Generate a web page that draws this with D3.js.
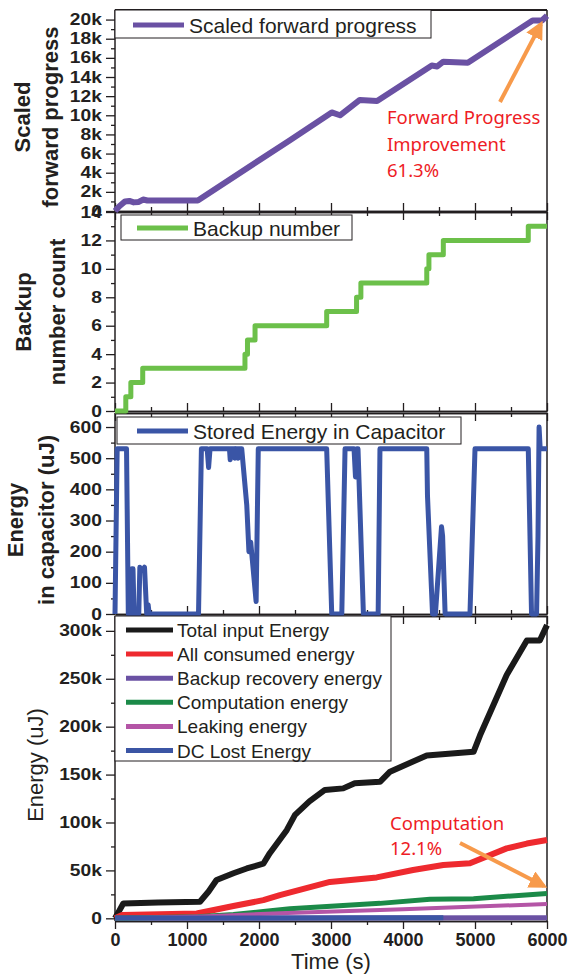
<!DOCTYPE html>
<html>
<head>
<meta charset="utf-8">
<script src="https://cdn.jsdelivr.net/npm/d3@7"></script>
<style>
body { margin: 0; background: #fff; }
svg { display: block; font-family: "Liberation Sans", Arial, sans-serif; }
</style>
</head>
<body>
<script>
// ---- data ----
var progTime  = [0, 60, 140, 200, 260, 330, 390, 450, 1150, 2430, 3010, 3125, 3400, 3640, 4400, 4475, 4560, 4900, 5800, 5930, 6000];
var progValue = [0, 500, 1000, 1050, 900, 950, 1200, 1100, 1100, 7400, 10300, 10000, 11600, 11500, 15200, 15100, 15600, 15500, 19900, 19900, 20400];

var backupTime  = [0, 150, 220, 385, 1805, 1840, 1945, 2940, 3355, 3415, 4330, 4360, 4560, 5740, 6000];
var backupCount = [0, 1, 2, 3, 4, 5, 6, 7, 8, 9, 10, 11, 12, 13, 13];

var capTime   = [0, 30, 160, 185, 215, 235, 250, 265, 330, 345, 380, 410, 440, 460, 475, 1160, 1200, 1280, 1300, 1320, 1590, 1600, 1615, 1660, 1665, 1680, 1700, 1710, 1725, 1760, 1830, 1860, 1885, 1960, 1990, 2940, 3010, 3150, 3195, 3320, 3340, 3360, 3375, 3450, 3655, 3680, 4330, 4340, 4410, 4450, 4535, 4550, 4585, 4930, 5000, 5740, 5785, 5855, 5875, 5890, 5905, 6000];
var capEnergy = [0, 530, 530, 0, 0, 145, 145, 0, 0, 150, 140, 150, 0, 30, 0, 0, 530, 530, 470, 530, 530, 495, 530, 530, 500, 530, 530, 500, 530, 530, 350, 200, 230, 40, 530, 530, 0, 0, 530, 530, 440, 530, 530, 0, 0, 530, 530, 380, 0, 0, 280, 250, 0, 0, 530, 530, 0, 0, 250, 600, 530, 530];

var energyNames = ["Total input Energy", "All consumed energy", "Backup recovery energy", "Computation energy", "Leaking energy", "DC Lost Energy"];
var totalTime  = [0, 60, 115, 600, 1180, 1300, 1410, 1645, 1830, 2060, 2150, 2385, 2500, 2700, 2915, 3170, 3330, 3680, 3820, 4330, 4980, 5070, 5440, 5720, 5900, 6000];
var totalValue = [0, 8000, 15500, 16500, 17300, 28000, 40000, 47000, 52000, 57000, 68000, 92000, 108000, 122000, 134000, 135600, 141000, 142500, 153000, 170000, 173800, 191000, 254000, 290000, 290000, 306000];
var consumedTime  = [0, 100, 1135, 1645, 2060, 2290, 2985, 3635, 4140, 4560, 4930, 5440, 5720, 6000];
var consumedValue = [0, 3400, 5000, 12800, 19000, 24300, 38000, 42700, 50400, 55600, 57400, 73000, 78000, 81700];
var recoveryTime  = [0, 6000];
var recoveryValue = [300, 700];
var computeTime  = [0, 1150, 1645, 2060, 2430, 3680, 4375, 4980, 6000];
var computeValue = [0, 1700, 4000, 7000, 10000, 15600, 20000, 20500, 26000];
var leakTime  = [0, 1200, 2290, 4000, 6000];
var leakValue = [0, 2000, 5200, 9500, 14900];
var dcLostTime  = [0, 4560];
var dcLostValue = [300, 500];

var timeTicks = [0, 1000, 2000, 3000, 4000, 5000, 6000];

// ---- layout ----
var svgWidth = 568, svgHeight = 975;
var plotLeft = 115, plotRight = 547;

var svg = d3.select("body").append("svg")
  .attr("width", svgWidth)
  .attr("height", svgHeight);

var x = d3.scaleLinear().domain([0, 6000]).range([plotLeft, plotRight]);

var kFormat = function(d) { return d === 0 ? "0" : (d / 1000) + "k"; };

function pts(t, v) { return t.map(function(d, i) { return [d, v[i]]; }); }

// draws frame, axes and title for one panel, returns its y scale
function panel(cfg) {
  var y = d3.scaleLinear().domain(cfg.domain).range([cfg.bottom, cfg.top]);
  var g = svg.append("g").attr("class", "panel");

  // minor + major left ticks
  g.append("g")
    .attr("transform", `translate(${plotLeft},0)`)
    .call(d3.axisLeft(y).tickValues(cfg.minor).tickSize(4).tickSizeOuter(0).tickFormat(""))
    .call(s => s.select(".domain").remove());
  var ya = g.append("g")
    .attr("transform", `translate(${plotLeft},0)`)
    .call(d3.axisLeft(y).tickValues(cfg.major).tickSize(9).tickSizeOuter(0).tickPadding(4).tickFormat(cfg.format));
  ya.select(".domain").remove();
  ya.selectAll(".tick text")
    .attr("font-size", 16).attr("font-weight", "bold").attr("fill", "#231f20")
    .attr("font-family", "'Liberation Sans', Arial, sans-serif")
    .attr("x", -11)
    .attr("transform", "scale(1.2,1)");

  // x ticks at top (inward) and bottom
  var minorT = d3.range(500, 6000, 1000);
  if (!cfg.noTopTicks) {
    g.append("g").attr("transform", `translate(0,${cfg.top})`)
      .call(d3.axisBottom(x).tickValues(timeTicks).tickSize(8).tickSizeOuter(0).tickFormat(""));
    g.append("g").attr("transform", `translate(0,${cfg.top})`)
      .call(d3.axisBottom(x).tickValues(minorT).tickSize(4).tickSizeOuter(0).tickFormat(""));
  } else {
    g.append("line").attr("x1", plotLeft).attr("x2", plotRight)
      .attr("y1", cfg.top).attr("y2", cfg.top).attr("stroke", "#231f20").attr("stroke-width", 2);
  }
  if (cfg.labels) {
    var xa = g.append("g").attr("transform", `translate(0,${cfg.bottom})`)
      .call(d3.axisBottom(x).tickValues(timeTicks).tickSize(8).tickSizeOuter(0).tickPadding(4).tickFormat(d3.format("d")));
    xa.selectAll(".tick text")
      .attr("font-size", 18).attr("font-weight", "bold").attr("fill", "#231f20")
      .attr("font-family", "'Liberation Sans', Arial, sans-serif");
    g.append("g").attr("transform", `translate(0,${cfg.bottom})`)
      .call(d3.axisBottom(x).tickValues(minorT).tickSize(4).tickSizeOuter(0).tickFormat(""));
  } else {
    g.append("g").attr("transform", `translate(0,${cfg.bottom})`)
      .call(d3.axisTop(x).tickValues(timeTicks).tickSize(8).tickSizeOuter(0).tickFormat(""));
    g.append("g").attr("transform", `translate(0,${cfg.bottom})`)
      .call(d3.axisTop(x).tickValues(minorT).tickSize(4).tickSizeOuter(0).tickFormat(""));
  }

  // left and right frame
  g.append("line").attr("x1", plotLeft).attr("x2", plotLeft)
    .attr("y1", cfg.top).attr("y2", cfg.bottom).attr("stroke", "#231f20").attr("stroke-width", 1.5);
  g.append("line").attr("x1", plotRight).attr("x2", plotRight)
    .attr("y1", cfg.top).attr("y2", cfg.bottom).attr("stroke", "#231f20").attr("stroke-width", 1.5);

  g.selectAll(".tick line").attr("stroke", "#231f20").attr("stroke-width", 1.3);
  g.selectAll(".domain").attr("stroke", "#231f20").attr("stroke-width", 1.5);

  // y title (rotated, one or two lines)
  cfg.title.forEach(function(t, i) {
    svg.append("text")
      .attr("transform", `translate(${cfg.titleX[i]},${cfg.titleY}) rotate(-90)`)
      .attr("text-anchor", "middle")
      .attr("font-size", 22)
      .attr("font-weight", cfg.titleWeight || "bold")
      .attr("fill", "#231f20")
      .text(t);
  });
  return y;
}

function legendBox(b, color, label, fontSize) {
  svg.append("rect").attr("x", b.x).attr("y", b.y).attr("width", b.w).attr("height", b.h)
    .attr("fill", "#fff").attr("stroke", "#231f20").attr("stroke-width", 1);
  svg.append("line").attr("x1", b.lx1).attr("x2", b.lx2).attr("y1", b.ly).attr("y2", b.ly)
    .attr("stroke", color).attr("stroke-width", 5);
  svg.append("text").attr("x", b.tx).attr("y", b.ly + 7.5)
    .attr("font-size", fontSize).attr("fill", "#231f20").text(label);
}

function drawLine(y, data, color, width, curve) {
  svg.append("path")
    .datum(data)
    .attr("fill", "none")
    .attr("stroke", color)
    .attr("stroke-width", width)
    .attr("stroke-linejoin", "round")
    .attr("d", d3.line().curve(curve || d3.curveLinear).x(d => x(d[0])).y(d => y(d[1])));
}

// ---- panel 1: scaled forward progress ----
var y1 = panel({
  top: 10, bottom: 211, domain: [0, 21000],
  major: d3.range(0, 21000, 2000), minor: d3.range(1000, 21000, 2000),
  format: kFormat, noTopTicks: true,
  title: ["Scaled", "forward progress"], titleX: [30, 58], titleY: 117
});

// ---- panel 2: backup number ----
var y2 = panel({
  top: 212, bottom: 411, domain: [0, 14],
  major: d3.range(0, 15, 2), minor: d3.range(1, 14, 2),
  format: d3.format("d"),
  title: ["Backup", "number count"], titleX: [31, 65], titleY: 312
});

// ---- panel 3: stored energy ----
var y3 = panel({
  top: 413, bottom: 614, domain: [0, 645],
  major: d3.range(0, 601, 100), minor: d3.range(50, 650, 100),
  format: d3.format("d"),
  title: ["Energy", "in capacitor (uJ)"], titleX: [23, 54], titleY: 520
});

// ---- panel 4: energy breakdown ----
var y4 = panel({
  top: 616, bottom: 921, domain: [-2800, 315500],
  major: d3.range(0, 300001, 50000), minor: d3.range(25000, 315000, 50000),
  format: kFormat, labels: true,
  title: ["Energy (uJ)"], titleX: [43], titleY: 765, titleWeight: "normal"
});

// lines
drawLine(y1, pts(progTime, progValue), "#6a51a3", 6);
drawLine(y2, pts(backupTime, backupCount), "#6cc04a", 5, d3.curveStepAfter);
drawLine(y3, pts(capTime, capEnergy), "#3a55a6", 5);

var energyColors = ["#1a1a1a", "#ee2a2f", "#6a51a3", "#1b8a48", "#b455a6", "#3b55a4"];
var energySeries = [
  pts(totalTime, totalValue),
  pts(consumedTime, consumedValue),
  pts(recoveryTime, recoveryValue),
  pts(computeTime, computeValue),
  pts(leakTime, leakValue),
  pts(dcLostTime, dcLostValue)
];
var energyWidths = [6, 6, 5, 5, 4, 5];
energySeries.forEach(function(s, i) {
  drawLine(y4, s, energyColors[i], energyWidths[i]);
});

// legends
legendBox({x: 115, y: 10, w: 316, h: 28, lx1: 133, lx2: 184, ly: 25, tx: 189}, "#6a51a3", "Scaled forward progress", 21);
legendBox({x: 121, y: 215, w: 231, h: 25, lx1: 137, lx2: 188, ly: 228, tx: 193}, "#6cc04a", "Backup number", 21);
legendBox({x: 117, y: 417, w: 344, h: 27, lx1: 137, lx2: 188, ly: 431, tx: 193}, "#3a55a6", "Stored Energy in Capacitor", 21);

svg.append("rect").attr("x", 115).attr("y", 616).attr("width", 276).attr("height", 145)
  .attr("fill", "#fff").attr("stroke", "#231f20").attr("stroke-width", 1);
var legY = d3.scalePoint().domain(energyNames).range([630, 750.5]);
energyNames.forEach(function(n, i) {
  svg.append("line").attr("x1", 126).attr("x2", 173).attr("y1", legY(n)).attr("y2", legY(n))
    .attr("stroke", energyColors[i]).attr("stroke-width", 5);
  svg.append("text").attr("x", 177).attr("y", legY(n) + 7)
    .attr("font-size", 19).attr("fill", "#231f20").text(n);
});

// x title
svg.append("text").attr("x", (plotLeft + plotRight) / 2).attr("y", 969)
  .attr("text-anchor", "middle").attr("font-size", 22).attr("fill", "#231f20").text("Time (s)");

// annotations
svg.append("defs").append("marker")
  .attr("id", "head").attr("viewBox", "0 0 10 10").attr("refX", 8).attr("refY", 5)
  .attr("markerWidth", 4.5).attr("markerHeight", 4.5).attr("orient", "auto")
  .append("path").attr("d", "M0,0 L10,5 L0,10 z").attr("fill", "#f79a4b");

svg.append("line").attr("x1", 500).attr("y1", 102).attr("x2", 541).attr("y2", 24)
  .attr("stroke", "#f79a4b").attr("stroke-width", 4).attr("marker-end", "url(#head)");
svg.append("line").attr("x1", 460).attr("y1", 843).attr("x2", 544).attr("y2", 886)
  .attr("stroke", "#f79a4b").attr("stroke-width", 4).attr("marker-end", "url(#head)");

var note = svg.append("g").attr("font-family", "'Noto Sans', 'Open Sans', sans-serif")
  .attr("font-size", 18.5).attr("fill", "#ee1c25");
["Forward Progress", "Improvement", "61.3%"].forEach(function(t, i) {
  note.append("text").attr("x", 387).attr("y", 124 + i * 26.5).text(t);
});
["Computation", "12.1%"].forEach(function(t, i) {
  note.append("text").attr("x", 390).attr("y", 830 + i * 25).text(t);
});
</script>
</body>
</html>
